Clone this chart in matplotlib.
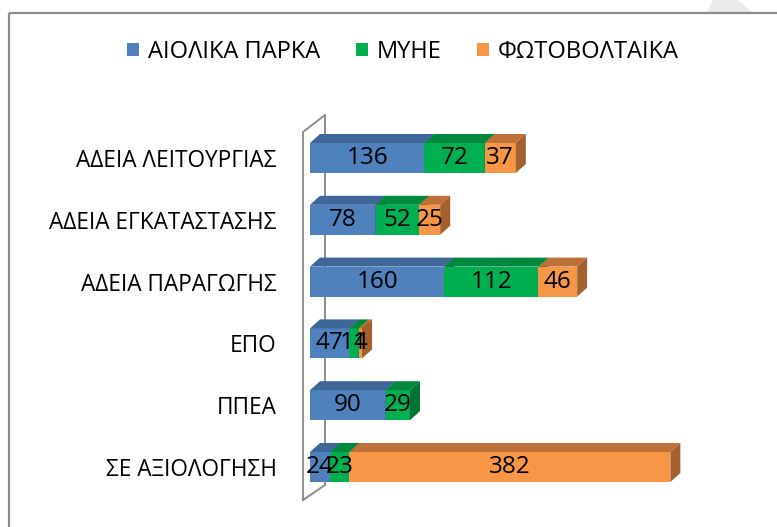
import matplotlib
matplotlib.use("Agg")
import matplotlib.pyplot as plt
from matplotlib.patches import Polygon

plt.rcParams['font.family'] = ['Open Sans', 'DejaVu Sans']

# data
categories = ['ΑΔΕΙΑ ΛΕΙΤΟΥΡΓΙΑΣ', 'ΑΔΕΙΑ ΕΓΚΑΤΑΣΤΑΣΗΣ', 'ΑΔΕΙΑ ΠΑΡΑΓΩΓΗΣ',
              'ΕΠΟ', 'ΠΠΕΑ', 'ΣΕ ΑΞΙΟΛΟΓΗΣΗ']
wind = [136, 78, 160, 47, 90, 24]
hydro = [72, 52, 112, 11, 29, 23]
pv = [37, 25, 46, 4, 0, 382]
series_names = ['ΑΙΟΛΙΚΑ ΠΑΡΚΑ', 'ΜΥΗΕ', 'ΦΩΤΟΒΟΛΤΑΙΚΑ']

front_colors = ['#4F81BD', '#00B050', '#F79646']
top_colors = ['#3E6699', '#00893E', '#BD7139']
side_colors = ['#355A88', '#007535', '#A2612F']
frame_col = '#8C8C8C'

W, H = 777, 527
fig = plt.figure(figsize=(W / 100, H / 100), dpi=100)

# background layer in pixel coordinates: outer frame, wall, watermark
bg = fig.add_axes([0, 0, 1, 1])
bg.set_xlim(0, W)
bg.set_ylim(H, 0)
bg.axis('off')
bg.plot([9, 9], [H, 13], color=frame_col, lw=1.6, solid_capstyle='butt')
bg.plot([9, W], [13, 13], color=frame_col, lw=1.6, solid_capstyle='butt')
bg.add_patch(Polygon([(707, 12), (752, 12), (738, 0), (713, 0)],
                     closed=True, fc='#EBEBEB', ec='none'))
bg.plot([303, 303, 325, 325], [500, 132, 115, 485], color=frame_col, lw=1.4)
bg.plot([303, 325], [500, 485], color=frame_col, lw=1.4)

# chart layer
ax = fig.add_axes([310 / W, 1 - 520 / H, 450 / W, 430 / H])
ax.patch.set_alpha(0)
ppu = 0.84      # pixels per unit
step = 61.8     # pixels between categories
ax.set_xlim(0, 450 / ppu)
ax.set_ylim((520 - 158) / step, (90 - 158) / step)
for s in ax.spines.values():
    s.set_visible(False)
ax.set_xticks([])
ax.set_yticks(range(len(categories)))
ax.set_yticklabels(categories, fontsize=16.3)
ax.tick_params(axis='y', length=0, pad=24)

h = 30 / step
dx = 10 / ppu
dy = 9 / step
ypos = list(range(len(categories)))
lefts = [0] * len(categories)
handles = []
for k, vals in enumerate([wind, hydro, pv]):
    bars = ax.barh(ypos, vals, left=lefts, height=h, color=front_colors[k],
                   label=series_names[k], zorder=2)
    handles.append(bars)
    for i, v in enumerate(vals):
        if v <= 0:
            continue
        l, r = lefts[i], lefts[i] + v
        top, bot = i - h / 2, i + h / 2
        ax.add_patch(Polygon([(l, top), (l + dx, top - dy), (r + dx, top - dy), (r, top)],
                             closed=True, fc=top_colors[k], ec='none', zorder=2))
        ax.add_patch(Polygon([(r, top), (r + dx, top - dy), (r + dx, bot - dy), (r, bot)],
                             closed=True, fc=side_colors[k], ec='none', zorder=2))
        ax.text((l + r) / 2, i, str(v), ha='center', va='center',
                fontsize=17.5, color='black', zorder=5)
    lefts = [a + b for a, b in zip(lefts, vals)]

fig.legend(handles=handles, loc='center', bbox_to_anchor=(403 / W, 1 - 52 / H),
           ncol=3, frameon=False, fontsize=17, handlelength=0.5, handleheight=0.5,
           handletextpad=0.38, columnspacing=1.5)

fig.savefig('out.png', dpi=100)
